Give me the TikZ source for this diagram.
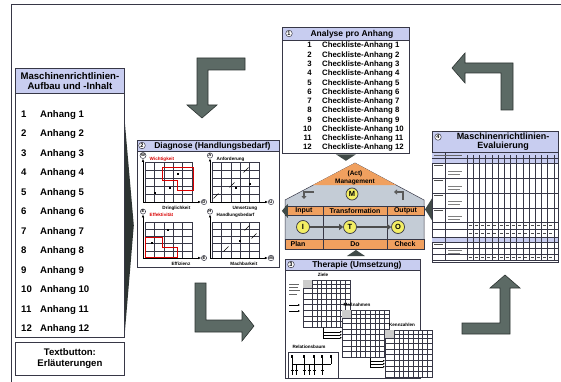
\documentclass[tikz,border=0pt]{standalone}
\usepackage{fontspec}
\setmainfont{Liberation Sans}
\usetikzlibrary{arrows.meta, positioning, calc}
\definecolor{headblue}{RGB}{200,205,240}
\definecolor{framedark}{RGB}{55,55,70}
\definecolor{arrowgreen}{RGB}{92,106,101}
\definecolor{arrowedge}{RGB}{45,52,50}
\definecolor{pdcaorange}{RGB}{240,160,95}
\definecolor{housegray}{RGB}{196,204,214}
\definecolor{ballyellow}{RGB}{243,238,100}
\colorlet{markred}{red!85!black}
\newcommand{\bfsz}[1]{\fontsize{#1}{#1}\selectfont\bfseries}

\begin{document}
\begin{tikzpicture}[x=1pt, y=-1pt,
    panel/.style={draw=framedark, line width=0.8pt, fill=white, inner sep=0pt, anchor=north west},
    panelhead/.style={panel, fill=headblue},
    stepno/.style={circle, draw=framedark, fill=white, line width=0.5pt, inner sep=0.6pt, font=\bfsz{5.5}},
    bigarrow/.style={fill=arrowgreen, draw=arrowedge, line width=0.6pt},
    pointer/.style={fill=arrowgreen!70!black},
    pdcaball/.style={circle, draw=framedark, fill=ballyellow, line width=0.7pt, minimum size=13pt, inner sep=0pt, font=\bfsz{7.5}},
    tinylbl/.style={font=\bfsz{4.6}, inner sep=0.5pt},
    gridline/.style={framedark, line width=0.45pt},
    tabbox/.style={draw=framedark, fill=white, line width=0.6pt, minimum width=47pt, minimum height=47pt, anchor=north west, inner sep=0pt}]
  \useasboundingbox (0,0) rectangle (561,382);
  \fill[white] (0,0) rectangle (561,382);
  \draw[framedark, line width=0.8pt] (11,382) -- (11,4) -- (561,4);

  % Aufbau und Inhalt
  \node[panelhead, minimum width=109pt, minimum height=25pt, align=center,
        font=\fontsize{9.6}{10.5}\selectfont\bfseries] (mrlhead) at (15,68) {Maschinenrichtlinien-\\Aufbau und -Inhalt};
  \node[panel, minimum width=109pt, minimum height=244pt] (mrllist) at (15,93) {};
  \foreach \i in {1,...,12} {
    \node[anchor=base west, inner sep=0pt, font=\bfsz{9.6}] (nr\i) at (21,{117.5+19.45*(\i-1)}) {\i};
    \node[anchor=base west, inner sep=0pt, font=\bfsz{9.6}] (anh\i) at (40,{117.5+19.45*(\i-1)}) {Anhang \i};
  }
  \node[panel, minimum width=109pt, minimum height=33pt, align=center,
        font=\fontsize{9.6}{11}\selectfont\bfseries] (txtbtn) at (15,342) {Textbutton:\\Erläuterungen};
  \fill[arrowedge] ($(mrllist.north east)+(0,29)$) -- ($(mrllist.east)+(9,10)$) -- ($(mrllist.south east)+(0,-5)$) -- cycle;

  % grosse Pfeile
  \draw[bigarrow] (245,58) -- (197,58) -- (197,105) -- (187,105) -- (202,118) -- (217,105) -- (208,105) -- (208,70) -- (245,70) -- cycle;
  \draw[bigarrow] (513,110) -- (513,63) -- (465,63) -- (465,53) -- (452,68) -- (465,83) -- (465,73) -- (501,73) -- (501,110) -- cycle;
  \draw[bigarrow] (195,283) -- (206,283) -- (206,320) -- (242,320) -- (242,311) -- (254,326) -- (242,341) -- (242,332) -- (195,332) -- cycle;
  \draw[bigarrow] (462,323) -- (500,323) -- (500,288) -- (490,288) -- (505,275) -- (520,288) -- (510,288) -- (510,334) -- (462,334) -- cycle;

  % (1) Analyse
  \node[panel, minimum width=127pt, minimum height=126pt] (ana) at (282,27) {};
  \node[panelhead, minimum width=127pt, minimum height=13pt, font=\bfsz{8.5}] (anahead) at (282,27) {\hspace{12pt}Analyse pro Anhang};
  \node[stepno] (st1) at (289,33.5) {1};
  \foreach \i in {1,...,12} {
    \node[anchor=base east, inner sep=0pt, font=\bfsz{7.8}] (clnr\i) at (312,{48+9.27*(\i-1)}) {\i};
    \node[anchor=base west, inner sep=0pt, font=\bfsz{7.8}] (cl\i) at (322,{48+9.27*(\i-1)}) {Checkliste-Anhang \i};
  }

  % (2) Diagnose
  \node[panel, minimum width=142pt, minimum height=127pt] (diag) at (137,140) {};
  \node[panelhead, minimum width=142pt, minimum height=11pt, font=\bfsz{8.5}] (diaghead) at (137,140) {\hspace{8pt}Diagnose (Handlungsbedarf)};
  \node[stepno] (st2) at (142,145.5) {2};
  \foreach \ox/\oy/\rh/\yl/\xl/\tlab/\blab/\tcol [count=\n] in
      {143/202/8/W/D/Wichtigkeit/Dringlichkeit/markred,
       210/202/8/A/U/Anforderung/Umsetzung/black,
       143/258/7.2/E/E/Effektivität/Effizienz/markred,
       210/258/7.2/H/M/Handlungsbedarf/Machbarkeit/black} {
    \foreach \k in {0,...,5}
      \draw[gridline] ({\ox+2+9.4*\k},{\oy}) -- ({\ox+2+9.4*\k},{\oy-5*\rh});
    \foreach \k in {1,...,5}
      \draw[gridline] ({\ox+2},{\oy-\rh*\k}) -- ({\ox+49},{\oy-\rh*\k});
    \node[stepno, font=\bfsz{4.2}, inner sep=0.4pt] (yax\n) at ({\ox},{\oy-46.5}) {\yl};
    \node[stepno, font=\bfsz{4.2}, inner sep=0.4pt] (xax\n) at ({\ox+61},{\oy}) {\xl};
    \draw[-{Latex[length=3pt,width=2.5pt]}, line width=0.6pt] (\ox,\oy) -- (yax\n.south);
    \draw[-{Latex[length=3pt,width=2.5pt]}, line width=0.6pt] (\ox,\oy) -- (xax\n.west);
    \node[tinylbl, text=\tcol, anchor=west] (ttl\n) at ({\ox+6},{\oy-43}) {\tlab};
    \node[tinylbl, anchor=east] (btl\n) at ({\ox+48},{\oy+6}) {\blab};
  }
  \draw[markred, line width=1pt] (162,167) -- (193,167) -- (193,190) -- (177,190) -- (177,180) -- (162,180) -- cycle;
  \draw[markred, line width=1pt] (145,237) -- (162,237) -- (162,247) -- (177,247) -- (177,257) -- (145,257) -- cycle;
  \foreach \px/\py in {178/174, 170/188, 155/193, 236/188, 168/230, 152/243, 240/241, 250/184}
    \fill[black] (\px-1,\py-1) rectangle (\px+1,\py+1);
  \foreach \px/\py in {246/170, 232/185, 216/196, 247/228, 226/249, 254/236}
    \draw[black, line width=0.5pt] (\px-2.5,\py+2.5) -- (\px+2.5,\py-2.5);

  % PDCA-Haus
  \fill[housegray, draw=framedark, line width=0.5pt] (285,200) -- (355,163) -- (424,200) -- (424,249) -- (285,249) -- cycle;
  \fill[pdcaorange] (355,163) -- (396,185) -- (313,185) -- cycle;
  \node[inner sep=0pt, font=\bfsz{6.5}] (act) at (355,174) {(Act)};
  \node[inner sep=0pt, font=\bfsz{6.5}] (mgmt) at (355,181.5) {Management};
  \node[pdcaball, minimum size=12pt] (ballM) at (352,194) {M};
  \draw[-{Triangle[length=3pt,width=5pt]}, line width=2pt, black!65] (314,192) -- (304,192) -- (304,199);
  \draw[-{Triangle[length=3pt,width=5pt]}, line width=2pt, black!65] (403,200) -- (403,192) -- (394,192);
  \fill[pdcaorange, draw=framedark, line width=0.4pt] (285,206) rectangle (424,215);
  \fill[pdcaorange, draw=framedark, line width=0.4pt] (285,239) rectangle (424,249);
  \draw[framedark, line width=0.5pt] (323,206) -- (323,249) (387,206) -- (387,249);
  \node[inner sep=0pt, font=\bfsz{7}] (inp) at (304,210.5) {Input};
  \node[inner sep=0pt, font=\bfsz{7}] (trf) at (355,210.5) {Transformation};
  \node[inner sep=0pt, font=\bfsz{7}] (outp) at (405.5,210.5) {Output};
  \node[inner sep=0pt, font=\bfsz{7}] (plan) at (298,244) {Plan};
  \node[inner sep=0pt, font=\bfsz{7}] (do) at (355,244) {Do};
  \node[inner sep=0pt, font=\bfsz{7}] (check) at (405,244) {Check};
  \node[pdcaball] (ballI) at (303,227) {I};
  \node[pdcaball] (ballT) at (350,227) {T};
  \node[pdcaball] (ballO) at (398,227) {O};
  \draw[-{Triangle[length=4pt,width=6pt]}, line width=2.5pt, black!70] (ballI) -- (ballT);
  \draw[-{Triangle[length=4pt,width=6pt]}, line width=2.5pt, black!70] (ballT) -- (ballO);

  % (3) Therapie
  \node[panel, minimum width=135pt, minimum height=119pt] (ther) at (285,259) {};
  \node[panelhead, minimum width=135pt, minimum height=11pt, font=\bfsz{8.5}] (therhead) at (285,259) {\hspace{8pt}Therapie (Umsetzung)};
  \node[stepno] (st3) at (291,264.5) {3};
  \foreach \tx/\ty/\tname in {303/280/ziele, 342/310/mass, 385/330/kenn} {
    \node[tabbox] (\tname) at (\tx,\ty) {};
    \fill[black!20] (\tx,\ty) rectangle ({\tx+9},{\ty+8});
    \foreach \k in {0,...,7}
      \draw[gridline] ({\tx+9+4.75*\k},{\ty}) -- ({\tx+9+4.75*\k},{\ty+47});
    \draw[gridline] ({\tx+9},{\ty+4}) -- ({\tx+47},{\ty+4});
    \foreach \k in {0,...,6}
      \draw[gridline] (\tx,{\ty+8+5.57*\k}) -- ({\tx+47},{\ty+8+5.57*\k});
  }
  \node[tinylbl] (zielelbl) at (323,275) {Ziele};
  \node[tinylbl] (masslbl) at (357,305) {Maßnahmen};
  \node[tinylbl] (kennlbl) at (402,325) {Kennzahlen};
  \foreach \d in {-2,1,4}
    \draw[-{Latex[length=2pt,width=2pt]}, line width=0.4pt] ($(ziele.south west)+(20,0)$) |- ($(mass.west)+(0,\d)$);
  \foreach \d in {7,10,13}
    \draw[-{Latex[length=2pt,width=2pt]}, line width=0.4pt] ($(mass.south west)+(28,0)$) |- ($(kenn.west)+(0,\d)$);
  \foreach \py/\pl in {284/10, 287/9, 290/11, 294/8}
    \draw[black!60, line width=0.7pt] (289,\py) -- (289+\pl,\py);
  \foreach \py in {305,311}
    \draw[-{Latex[length=2pt,width=2pt]}, line width=0.6pt] (289,\py) -- (300,\py);
  \node[tinylbl] (rellbl) at (309,347) {Relationsbaum};
  \node[draw=framedark, line width=0.6pt, minimum width=50pt, minimum height=26pt, anchor=north west, inner sep=0pt] (rel) at (288,352) {};
  \draw[line width=0.5pt] (292,364) -- (331,364);
  \foreach \px in {292,304,314,322,331} {
    \draw[line width=0.5pt] (\px,357) -- (\px,364);
    \fill (\px-1,355) rectangle (\px+1,358);
  }
  \foreach \px in {292,296,304,309,314,322}
    \draw[line width=0.5pt] (\px,364) -- (\px,375) (\px-1.5,370) -- (\px+1.5,370);

  % (4) Evaluierung
  \node[panel, minimum width=126pt, minimum height=131pt] (eval) at (432,131) {};
  \node[panelhead, minimum width=126pt, minimum height=21pt] (evalhead) at (432,131) {};
  \node[align=center, inner sep=0pt, font=\fontsize{9}{8.8}\selectfont\bfseries] (evaltitle) at (503,141.5) {Maschinenrichtlinien-\\Evaluierung};
  \node[stepno] (st4) at (438,137) {4};
  \fill[headblue] (432,152) rectangle (558,163);
  \fill[headblue] (432,237) rectangle (558,242);
  \foreach \k in {0,...,14}
    \draw[gridline] ({467+6.2*\k},155) -- ({467+6.2*\k},260);
  \foreach \r in {152,158,163,178,193,208,222,229,237,242,248,254,260}
    \draw[gridline] (432,\r) -- (558,\r);
  \draw[gridline] (445,152) -- (445,260);
  \draw[black!60, line width=1pt] (434,155) -- (462,155);
  \foreach \r in {163,178,193,208,242} {
    \draw[black!70, line width=1pt] (434,{\r+2.5}) -- (443,{\r+2.5});
    \draw[black!50, line width=0.7pt] (448,{\r+8}) -- (462,{\r+8}) (448,{\r+11}) -- (460,{\r+11});
  }
  \foreach \k in {0,...,13}
    \foreach \r in {225.5,233,257}
      \draw[black!70, line width=0.5pt] ({468.5+6.2*\k},\r) -- ({471.5+6.2*\k},\r);

  % Pfeilspitzen zwischen den Bausteinen
  \fill[pointer] ($(ana.south)+(-10,0.5)$) -- ($(ana.south)+(10,0.5)$) -- ($(ana.south)+(0,7)$) -- cycle;
  \fill[pointer] ($(ther.north)+(-6,-3)$) -- ($(ther.north)+(12,-3)$) -- ($(ther.north)+(3,-9)$) -- cycle;
  \fill[pointer] ($(diag.east)+(8,0)$) -- ($(diag.east)+(8,14)$) -- ($(diag.east)+(2,7)$) -- cycle;
  \fill[pointer] ($(eval.west)+(0,1.5)$) -- ($(eval.west)+(0,23.5)$) -- ($(eval.west)+(-7,12.5)$) -- cycle;
\end{tikzpicture}
\end{document}
